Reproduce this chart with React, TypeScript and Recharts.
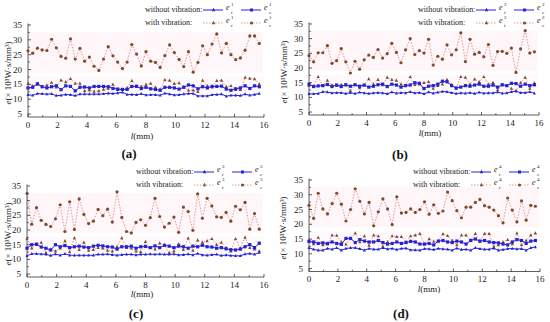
import React from 'react';
import { LineChart, Line, XAxis, YAxis, ReferenceArea } from 'recharts';

// measuring positions along the sample, mm
const lengths = [
  0, 0.32, 0.64, 0.96, 1.28, 1.6, 1.92, 2.24, 2.56, 2.88, 3.2, 3.52, 3.84, 4.16, 4.48, 4.8, 5.12,
  5.44, 5.76, 6.08, 6.4, 6.72, 7.04, 7.36, 7.68, 8, 8.32, 8.64, 8.96, 9.28, 9.6, 9.92, 10.24, 10.56,
  10.88, 11.2, 11.52, 11.84, 12.16, 12.48, 12.8, 13.12, 13.44, 13.76, 14.08, 14.4, 14.72, 15.04,
  15.36, 15.68,
];

// (a)
const aEtWithout = [11.5, 11.3, 11.9, 11.8, 11.7, 11.8, 11.2, 11.3, 11.6, 11.5, 11.2, 11.7, 11.7, 11.7, 11.7, 11.7, 11.8, 12.0, 11.9, 12.1, 12.3, 11.6, 11.6, 11.5, 11.8, 11.4, 11.5, 11.5, 11.3, 12.0, 11.7, 11.4, 11.5, 11.7, 11.9, 11.9, 11.1, 11.1, 11.1, 11.5, 11.6, 11.7, 11.0, 11.3, 11.3, 11.2, 11.7, 11.3, 11.6, 11.9];
const aEcWithout = [13.8, 14.0, 15.2, 14.2, 13.8, 14.2, 14.5, 13.2, 14.5, 14.3, 12.8, 14.0, 14.1, 13.8, 14.3, 14.3, 14.3, 14.2, 13.6, 13.4, 13.3, 13.3, 14.3, 14.3, 13.6, 14.0, 13.5, 13.3, 13.0, 14.0, 14.0, 13.8, 13.4, 14.0, 14.8, 14.5, 13.5, 14.2, 13.8, 14.3, 14.3, 14.4, 13.4, 13.0, 13.5, 13.8, 14.5, 13.6, 14.5, 14.2];
const aEtWith = [15.3, 14.5, 15.0, 14.2, 14.7, 15.6, 14.0, 16.4, 15.8, 16.9, 15.3, 15.3, 12.8, 13.0, 12.6, 12.8, 13.3, 13.6, 15.0, 13.2, 13.2, 13.8, 16.2, 14.5, 14.3, 15.0, 15.3, 14.0, 13.3, 16.5, 16.3, 15.2, 15.5, 14.2, 13.0, 13.0, 12.5, 16.3, 14.5, 14.0, 16.2, 16.3, 14.2, 14.5, 13.2, 13.2, 17.3, 17.0, 16.8, 15.1];
const aEcWith = [26.3, 25.5, 27.2, 26.6, 26.4, 30.2, 27.3, 24.4, 23.8, 30.3, 23.5, 27.1, 22.8, 24.2, 21.1, 19.7, 23.5, 27.7, 24.6, 22.5, 20.3, 22.5, 28.4, 25.2, 21.2, 26.0, 22.8, 22.4, 20.7, 24.7, 28.3, 25.7, 23.4, 21.0, 26.0, 19.1, 22.4, 28.0, 25.0, 28.6, 32.0, 25.6, 28.8, 25.0, 23.3, 23.9, 26.5, 31.3, 31.3, 28.8];

// (b)
const bEtWithout = [11.2, 11.2, 11.3, 11.9, 11.8, 11.5, 11.6, 11.6, 11.3, 11.6, 11.3, 11.7, 11.5, 11.3, 11.5, 11.6, 11.5, 11.2, 11.8, 11.4, 11.6, 11.5, 11.9, 11.5, 11.6, 11.2, 11.8, 11.4, 11.7, 12.0, 11.9, 11.6, 11.3, 11.5, 11.4, 11.6, 11.3, 11.7, 11.4, 11.5, 11.5, 11.8, 11.4, 11.5, 11.9, 12.1, 11.6, 11.6, 11.9, 11.4];
const bEcWithout = [14.5, 13.7, 13.9, 14.0, 14.4, 13.7, 14.2, 13.7, 14.3, 13.8, 14.3, 13.8, 14.2, 13.5, 13.8, 14.3, 14.5, 13.7, 14.5, 14.2, 13.5, 14.0, 14.2, 15.0, 14.8, 13.0, 13.8, 14.0, 14.5, 15.5, 15.3, 14.0, 13.2, 13.5, 14.0, 13.8, 14.2, 14.5, 13.8, 13.8, 14.2, 13.5, 14.3, 14.0, 14.8, 14.7, 13.8, 14.5, 14.0, 14.3];
const bEtWith = [14.0, 13.8, 17.0, 14.0, 15.8, 14.2, 14.0, 14.3, 14.2, 12.3, 14.3, 13.2, 14.2, 16.3, 14.5, 16.0, 14.2, 16.8, 16.0, 15.8, 14.5, 14.0, 17.0, 14.3, 14.5, 15.0, 15.3, 13.0, 14.0, 14.5, 16.0, 14.3, 13.0, 17.0, 16.8, 14.5, 16.2, 15.3, 17.0, 14.5, 15.0, 12.5, 14.2, 14.0, 13.0, 12.3, 15.0, 16.8, 13.0, 14.8];
const bEcWith = [24.2, 22.1, 25.2, 25.2, 27.6, 21.6, 22.5, 26.6, 22.1, 18.3, 22.3, 19.6, 22.8, 24.4, 23.6, 26.3, 23.4, 24.9, 28.4, 25.3, 21.8, 26.2, 30.0, 24.6, 25.9, 25.1, 29.8, 21.0, 24.0, 23.0, 27.9, 24.5, 26.2, 32.0, 22.2, 29.8, 24.7, 25.3, 23.8, 28.0, 20.9, 25.6, 25.7, 25.0, 26.8, 18.5, 26.5, 32.7, 25.1, 25.5];

// (c)
const cEtWithout = [11.2, 11.9, 11.9, 11.8, 11.7, 11.3, 11.8, 11.4, 11.9, 11.4, 11.4, 11.4, 11.4, 11.4, 11.4, 11.7, 11.7, 11.8, 11.6, 11.4, 11.6, 11.7, 11.7, 11.5, 11.7, 11.7, 11.8, 11.7, 11.8, 11.7, 11.7, 11.8, 11.5, 11.6, 11.8, 11.5, 12.0, 11.5, 11.4, 11.6, 11.7, 11.3, 11.5, 11.3, 11.2, 11.2, 11.8, 12.0, 11.7, 12.3];
const cEcWithout = [13.8, 15.0, 15.2, 14.2, 13.8, 13.2, 15.0, 14.3, 14.7, 14.0, 14.3, 14.5, 14.2, 14.0, 14.5, 14.8, 14.6, 14.3, 14.2, 13.5, 14.3, 14.3, 14.5, 13.8, 14.3, 14.4, 14.0, 14.6, 14.0, 14.8, 14.5, 14.0, 14.5, 14.3, 13.8, 14.5, 14.3, 14.8, 14.3, 14.2, 13.8, 14.0, 13.6, 13.3, 13.2, 13.5, 14.3, 15.0, 14.0, 15.5];
const cEtWith = [17.1, 13.8, 15.0, 15.8, 12.3, 13.5, 12.8, 13.8, 16.3, 12.5, 17.3, 13.3, 15.8, 13.0, 13.3, 14.0, 13.8, 13.0, 12.8, 14.3, 17.3, 14.0, 13.8, 12.8, 12.5, 16.0, 14.0, 13.5, 15.5, 14.8, 12.3, 12.8, 15.3, 13.3, 17.2, 13.0, 16.5, 15.8, 16.3, 17.0, 15.0, 15.8, 14.0, 12.8, 17.0, 13.8, 17.5, 14.0, 13.5, 12.8];
const cEcWith = [32.4, 22.0, 27.6, 23.3, 21.9, 21.2, 23.8, 28.6, 19.5, 29.6, 20.2, 30.6, 25.3, 22.2, 23.0, 27.0, 24.9, 27.1, 22.7, 33.0, 24.3, 19.5, 19.0, 22.6, 23.5, 21.6, 24.2, 30.8, 24.6, 21.0, 22.3, 24.4, 19.2, 27.8, 26.3, 19.9, 32.3, 24.0, 30.8, 28.2, 24.5, 24.3, 26.0, 23.0, 28.1, 26.9, 29.4, 20.3, 25.6, 20.3];

// (d)
const dEtWithout = [12.0, 11.5, 11.2, 11.2, 11.8, 11.5, 12.0, 11.2, 11.8, 12.0, 12.0, 11.7, 11.2, 11.8, 11.5, 11.5, 12.0, 11.6, 11.8, 11.4, 11.8, 11.9, 11.3, 11.3, 11.2, 11.7, 11.6, 11.4, 11.8, 11.6, 11.5, 11.2, 11.9, 11.4, 11.5, 11.2, 12.0, 11.7, 11.5, 11.5, 11.9, 11.2, 11.4, 11.7, 11.8, 11.6, 11.7, 11.2, 12.0, 12.3];
const dEcWithout = [14.2, 14.0, 13.5, 13.7, 13.5, 14.0, 13.5, 13.2, 15.2, 15.2, 13.8, 14.8, 14.3, 14.0, 14.0, 14.5, 13.8, 13.3, 13.5, 14.0, 13.5, 13.8, 14.2, 14.0, 13.3, 13.3, 13.5, 13.0, 14.3, 14.5, 14.0, 13.8, 14.3, 14.0, 13.3, 14.5, 15.0, 14.3, 14.5, 14.0, 13.8, 13.7, 13.3, 13.0, 14.0, 14.8, 14.5, 13.5, 14.3, 14.5];
const dEtWith = [14.5, 13.3, 15.5, 13.0, 13.2, 16.3, 16.2, 14.0, 13.2, 15.2, 17.0, 14.0, 16.0, 12.8, 16.3, 16.0, 12.5, 14.0, 16.0, 15.8, 15.8, 14.0, 16.0, 16.3, 16.8, 13.2, 15.0, 14.2, 14.3, 16.7, 16.1, 14.5, 13.0, 16.3, 16.3, 14.5, 16.8, 14.2, 16.8, 16.8, 12.5, 13.0, 14.0, 14.8, 13.3, 17.0, 13.0, 14.5, 16.3, 17.0];
const dEcWith = [26.4, 22.0, 30.5, 25.2, 23.5, 27.0, 30.5, 26.8, 21.1, 25.0, 32.0, 27.8, 23.5, 27.4, 19.5, 24.2, 28.6, 25.2, 19.9, 29.3, 23.8, 24.0, 25.2, 24.0, 25.0, 27.6, 23.4, 26.6, 23.7, 24.5, 30.9, 28.0, 24.6, 22.2, 25.8, 25.8, 27.4, 28.4, 26.3, 25.8, 24.8, 22.9, 20.5, 28.9, 24.8, 20.8, 27.9, 21.4, 26.4, 26.1];

const xTicks = [0, 1, 2, 3, 4, 5, 6, 7, 8, 9, 10, 11, 12, 13, 14, 15, 16];
const yTicks = [5, 7.5, 10, 12.5, 15, 17.5, 20, 22.5, 25, 27.5, 30, 32.5, 35];

const SERIF = '"Liberation Serif", "Times New Roman", serif';
const BLUE = '#2424d6';
const RED_LINE = '#e47a7a';
const BROWN = '#7d4a2c';
const PANEL_W = 275;
const PANEL_H = 161;

type Shape = 'square' | 'triangle' | 'circle';

const makeDot = (shape: Shape, color: string, s: number) => (props: any) => {
  const { cx, cy, index } = props;
  if (cx == null || cy == null) return <g key={index} />;
  if (shape === 'square') {
    return <rect key={index} x={cx - s} y={cy - s} width={s * 2} height={s * 2} fill={color} />;
  }
  if (shape === 'triangle') {
    return (
      <polygon
        key={index}
        points={`${cx},${cy - s * 1.2} ${cx - s},${cy + s * 0.8} ${cx + s},${cy + s * 0.8}`}
        fill={color}
      />
    );
  }
  return <circle key={index} cx={cx} cy={cy} r={s} fill={color} />;
};

const YTick = (props: any) => {
  const { x, y, payload } = props;
  const major = payload.value % 5 === 0;
  const ax = x + 6;
  return (
    <g>
      <line x1={ax} x2={ax + (major ? 3 : 1.8)} y1={y} y2={y} stroke="#333" strokeWidth={0.8} />
      {major && (
        <text x={x} y={y + 3} textAnchor="end" fontSize={9} fontFamily={SERIF} fill="#222">
          {payload.value}
        </text>
      )}
    </g>
  );
};

const XTick = (props: any) => {
  const { x, y, payload } = props;
  const major = payload.value % 2 === 0;
  const ay = y - 4;
  return (
    <g>
      <line x1={x} x2={x} y1={ay} y2={ay - (major ? 3 : 1.8)} stroke="#333" strokeWidth={0.8} />
      {major && (
        <text x={x} y={y + 6.5} textAnchor="middle" fontSize={9} fontFamily={SERIF} fill="#222">
          {payload.value}
        </text>
      )}
    </g>
  );
};

const SeriesName = ({ sub, sup }: { sub: string; sup: string }) => (
  <span style={{ position: 'relative', display: 'inline-block', width: 12, height: 10 }}>
    <span style={{ fontStyle: 'italic', position: 'absolute', left: 0, top: -1 }}>e</span>
    <span style={{ position: 'absolute', left: 5, top: -4, fontSize: 5 }}>{sup}</span>
    <span style={{ position: 'absolute', left: 5, top: 4, fontSize: 5, fontStyle: 'italic' }}>{sub}</span>
  </span>
);

const Sample = ({ color, dashed, shape, mark }: { color: string; dashed: boolean; shape: Shape; mark: string }) => (
  <svg width={20} height={8} style={{ verticalAlign: 'middle' }}>
    <line x1={0} x2={20} y1={4} y2={4} stroke={color} strokeWidth={dashed ? 0.8 : 1} strokeDasharray={dashed ? '1.5 1.5' : undefined} />
    {shape === 'square' && <rect x={9} y={2.5} width={3} height={3} fill={mark} />}
    {shape === 'triangle' && <polygon points="10.5,1.8 8.8,5.2 12.2,5.2" fill={mark} />}
    {shape === 'circle' && <circle cx={10.5} cy={4} r={1.6} fill={mark} />}
  </svg>
);

interface PanelProps {
  tag: string;
  idx: string;
  left: number;
  top: number;
  plotLeft: number;
  plotRight: number;
  plotTop: number;
  plotBottom: number;
  etWithout: number[];
  ecWithout: number[];
  etWith: number[];
  ecWith: number[];
  legendX: number;
  legendY: number;
  xLabel: [number, number];
  tagPos: [number, number];
  yLabelX: number;
}

const Panel = (p: PanelProps) => {
  const data = lengths.map((l, i) => ({
    l,
    etWithout: p.etWithout[i],
    ecWithout: p.ecWithout[i],
    etWith: p.etWith[i],
    ecWith: p.ecWith[i],
  }));
  const xAxisH = 20;
  return (
    <div style={{ position: 'absolute', left: p.left, top: p.top, width: PANEL_W, height: PANEL_H, fontFamily: SERIF }}>
      <LineChart
        width={PANEL_W}
        height={PANEL_H}
        data={data}
        margin={{ top: p.plotTop, right: PANEL_W - p.plotRight, left: 0, bottom: PANEL_H - p.plotBottom - xAxisH }}
      >
        <ReferenceArea x1={0} x2={15.9} y1={19} y2={32.5} fill="#fdeef2" strokeOpacity={0} ifOverflow="hidden" />
        <ReferenceArea x1={0} x2={15.9} y1={12.3} y2={17.6} fill="#fdf3f6" strokeOpacity={0} ifOverflow="hidden" />
        <XAxis
          dataKey="l"
          type="number"
          domain={[0, 16]}
          ticks={xTicks}
          interval={0}
          height={xAxisH}
          tickSize={0}
          tickMargin={4}
          tick={<XTick />}
          axisLine={{ stroke: '#333', strokeWidth: 0.8 }}
        />
        <YAxis
          type="number"
          domain={[4, 35.5]}
          ticks={yTicks}
          interval={0}
          width={p.plotLeft}
          tickSize={0}
          tickMargin={6}
          tick={<YTick />}
          axisLine={{ stroke: '#333', strokeWidth: 0.8 }}
          allowDataOverflow
        />
        <Line dataKey="ecWith" stroke={RED_LINE} strokeWidth={0.8} strokeDasharray="1.5 1.5" dot={makeDot('circle', BROWN, 1.6)} isAnimationActive={false} />
        <Line dataKey="etWith" stroke={RED_LINE} strokeWidth={0.8} strokeDasharray="1.5 1.5" dot={makeDot('triangle', BROWN, 1.6)} isAnimationActive={false} />
        <Line dataKey="ecWithout" stroke={BLUE} strokeWidth={1} dot={makeDot('square', BLUE, 1.6)} isAnimationActive={false} />
        <Line dataKey="etWithout" stroke={BLUE} strokeWidth={1} dot={makeDot('triangle', BLUE, 1.5)} isAnimationActive={false} />
      </LineChart>

      <div
        style={{
          position: 'absolute',
          left: p.yLabelX,
          top: (p.plotTop + p.plotBottom) / 2 + 3,
          transform: 'translate(-50%, -50%) rotate(-90deg)',
          whiteSpace: 'nowrap',
          fontSize: 9,
          color: '#222',
        }}
      >
        <i>e</i>(× 10³W·s/mm³)
      </div>

      <div style={{ position: 'absolute', left: p.xLabel[0], top: p.xLabel[1], transform: 'translate(-50%, -50%)', fontSize: 9, color: '#222', whiteSpace: 'nowrap' }}>
        <i>l</i>(mm)
      </div>

      <div style={{ position: 'absolute', left: p.tagPos[0], top: p.tagPos[1], transform: 'translate(-50%, -50%)', fontSize: 13, lineHeight: '14px', fontWeight: 'bold', color: '#111' }}>
        ({p.tag})
      </div>

      <div style={{ position: 'absolute', left: p.legendX, top: p.legendY - 5, fontSize: 8, color: '#222', lineHeight: '10px' }}>
        <div style={{ display: 'flex', alignItems: 'center', height: 10 }}>
          <span style={{ width: 58, whiteSpace: 'nowrap' }}>without vibration:</span>
          <Sample color={BLUE} dashed={false} shape="triangle" mark={BLUE} />
          <span style={{ marginLeft: 3 }}><SeriesName sub="t" sup={p.idx} /></span>
          <span style={{ marginLeft: 3 }}><Sample color={BLUE} dashed={false} shape="square" mark={BLUE} /></span>
          <span style={{ marginLeft: 3 }}><SeriesName sub="c" sup={p.idx} /></span>
        </div>
        <div style={{ display: 'flex', alignItems: 'center', height: 10, marginTop: 3 }}>
          <span style={{ width: 58, whiteSpace: 'nowrap' }}>with vibration:</span>
          <Sample color={RED_LINE} dashed shape="triangle" mark={BROWN} />
          <span style={{ marginLeft: 3 }}><SeriesName sub="t" sup={p.idx} /></span>
          <span style={{ marginLeft: 3 }}><Sample color={RED_LINE} dashed shape="circle" mark={BROWN} /></span>
          <span style={{ marginLeft: 3 }}><SeriesName sub="c" sup={p.idx} /></span>
        </div>
      </div>
    </div>
  );
}

export default function App() {
  return (
    <div style={{ position: 'fixed', left: 0, top: 0, width: 550, height: 322, background: '#fff', overflow: 'hidden' }}>
      <Panel
        tag="a" idx="1" left={0} top={0}
        plotLeft={28} plotRight={264} plotTop={23.5} plotBottom={117}
        etWithout={aEtWithout} ecWithout={aEcWithout} etWith={aEtWith} ecWith={aEcWith}
        legendX={145} legendY={10} xLabel={[142, 136]} tagPos={[129, 154]} yLabelX={7.5}
      />
      <Panel
        tag="b" idx="2" left={275} top={0}
        plotLeft={34} plotRight={264} plotTop={22.5} plotBottom={115}
        etWithout={bEtWithout} ecWithout={bEcWithout} etWith={bEtWith} ecWith={bEcWith}
        legendX={143} legendY={10} xLabel={[155, 133]} tagPos={[125, 155]} yLabelX={9}
      />
      <Panel
        tag="c" idx="3" left={0} top={161}
        plotLeft={27} plotRight={264} plotTop={23.5} plotBottom={116}
        etWithout={cEtWithout} ecWithout={cEcWithout} etWith={cEtWith} ecWith={cEcWith}
        legendX={136} legendY={11} xLabel={[142, 133]} tagPos={[136, 153]} yLabelX={7.5}
      />
      <Panel
        tag="d" idx="4" left={275} top={161}
        plotLeft={34} plotRight={265} plotTop={17.5} plotBottom={110.5}
        etWithout={dEtWithout} ecWithout={dEcWithout} etWith={dEtWith} ecWith={dEcWith}
        legendX={138} legendY={11} xLabel={[154, 128]} tagPos={[126, 153]} yLabelX={8}
      />
    </div>
  );
}
